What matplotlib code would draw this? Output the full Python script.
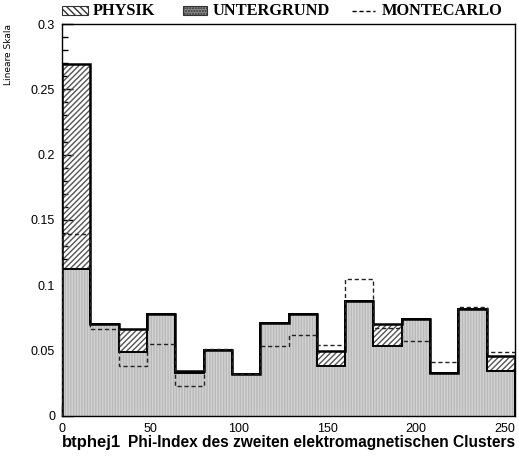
import numpy as np
import matplotlib.pyplot as plt
from matplotlib.patches import Rectangle
from matplotlib.lines import Line2D
from matplotlib.ticker import MultipleLocator

# bin edges: 16 bins of width 16 over the phi index
edges = np.arange(0, 257, 16)
total = [0.2694, 0.0704, 0.0668, 0.0780, 0.0342, 0.0503, 0.0324, 0.0714,
         0.0783, 0.0497, 0.0880, 0.0702, 0.0742, 0.0329, 0.0819, 0.0459]
untergrund = [0.1123, 0.0704, 0.0487, 0.0780, 0.0327, 0.0503, 0.0324, 0.0714,
              0.0783, 0.0383, 0.0880, 0.0533, 0.0742, 0.0329, 0.0819, 0.0342]
montecarlo = [0.1390, 0.0666, 0.0383, 0.0551, 0.0227, 0.0510, 0.0324, 0.0538,
              0.0620, 0.0541, 0.1050, 0.0677, 0.0577, 0.0411, 0.0832, 0.0490]

total = np.array(total)
untergrund = np.array(untergrund)
physik = total - untergrund

fig = plt.figure(figsize=(5.19, 4.59), dpi=100)
ax = fig.add_axes([0.1195, 0.0937, 0.8728, 0.854])
ax.set_axisbelow(True)

lefts = edges[:-1]
ax.bar(lefts, untergrund, width=16, align='edge', facecolor='#d2d2d2',
       edgecolor='#bababa', hatch='||||||', linewidth=0, zorder=1)
ax.bar(lefts, physik, bottom=untergrund, width=16, align='edge', facecolor='none',
       edgecolor='#555555', hatch='//////', linewidth=0, zorder=1)
ax.stairs(untergrund, edges, color='black', linewidth=1.4, zorder=3)
ax.stairs(total, edges, color='black', linewidth=1.8, zorder=3)
ax.stairs(montecarlo, edges, color='#222222', linewidth=1.0, linestyle=(0, (3, 2)), zorder=4)

ax.set_xlim(0, 256)
ax.set_ylim(0, 0.3)
ax.xaxis.set_major_locator(MultipleLocator(50))
ax.yaxis.set_minor_locator(MultipleLocator(0.01))
ax.set_yticks([0, 0.05, 0.1, 0.15, 0.2, 0.25, 0.3])
ax.set_yticklabels(['0', '0.05', '0.1', '0.15', '0.2', '0.25', '0.3'])
ax.tick_params(axis='both', which='major', direction='in', length=8, width=1,
               labelsize=9, pad=5)
ax.tick_params(axis='both', which='minor', direction='in', length=4, width=1)
ax.tick_params(axis='x', which='both', top=False)
ax.tick_params(axis='y', which='both', right=False)
for lab in ax.get_xticklabels() + ax.get_yticklabels():
    lab.set_family('Liberation Sans')
for sp in ax.spines.values():
    sp.set_linewidth(1.0)

# axis titles
fig.text(0.0155, 0.882, 'Lineare Skala', rotation=90, ha='center', va='center',
         fontsize=6.5, family='DejaVu Sans')
fig.text(0.1195, 0.036, 'btphej1', ha='left', va='center', fontsize=12,
         fontweight='bold', family='Liberation Sans')
fig.text(0.992, 0.036, 'Phi-Index des zweiten elektromagnetischen Clusters',
         ha='right', va='center', fontsize=11.2, fontweight='bold', family='Liberation Sans')

# legend above the frame
ly = 0.977
fig.patches.append(Rectangle((0.1195, ly - 0.010), 0.050, 0.020, transform=fig.transFigure,
                             facecolor='white', edgecolor='#333333', hatch='\\\\\\\\\\',
                             linewidth=0.8))
fig.text(0.178, ly, 'PHYSIK', ha='left', va='center', fontsize=11.8,
         fontweight='bold', family='Liberation Serif')
fig.patches.append(Rectangle((0.353, ly - 0.010), 0.046, 0.020, transform=fig.transFigure,
                             facecolor='#8a8a8a', edgecolor='#333333', hatch='......',
                             linewidth=0.8))
fig.text(0.410, ly, 'UNTERGRUND', ha='left', va='center', fontsize=11.8,
         fontweight='bold', family='Liberation Serif')
fig.lines.append(Line2D([0.678, 0.723], [ly, ly], transform=fig.transFigure,
                        color='black', linewidth=1.0, linestyle=(0, (3, 2))))
fig.text(0.736, ly, 'MONTECARLO', ha='left', va='center', fontsize=11.8,
         fontweight='bold', family='Liberation Serif')

fig.savefig('out.png', dpi=100)
